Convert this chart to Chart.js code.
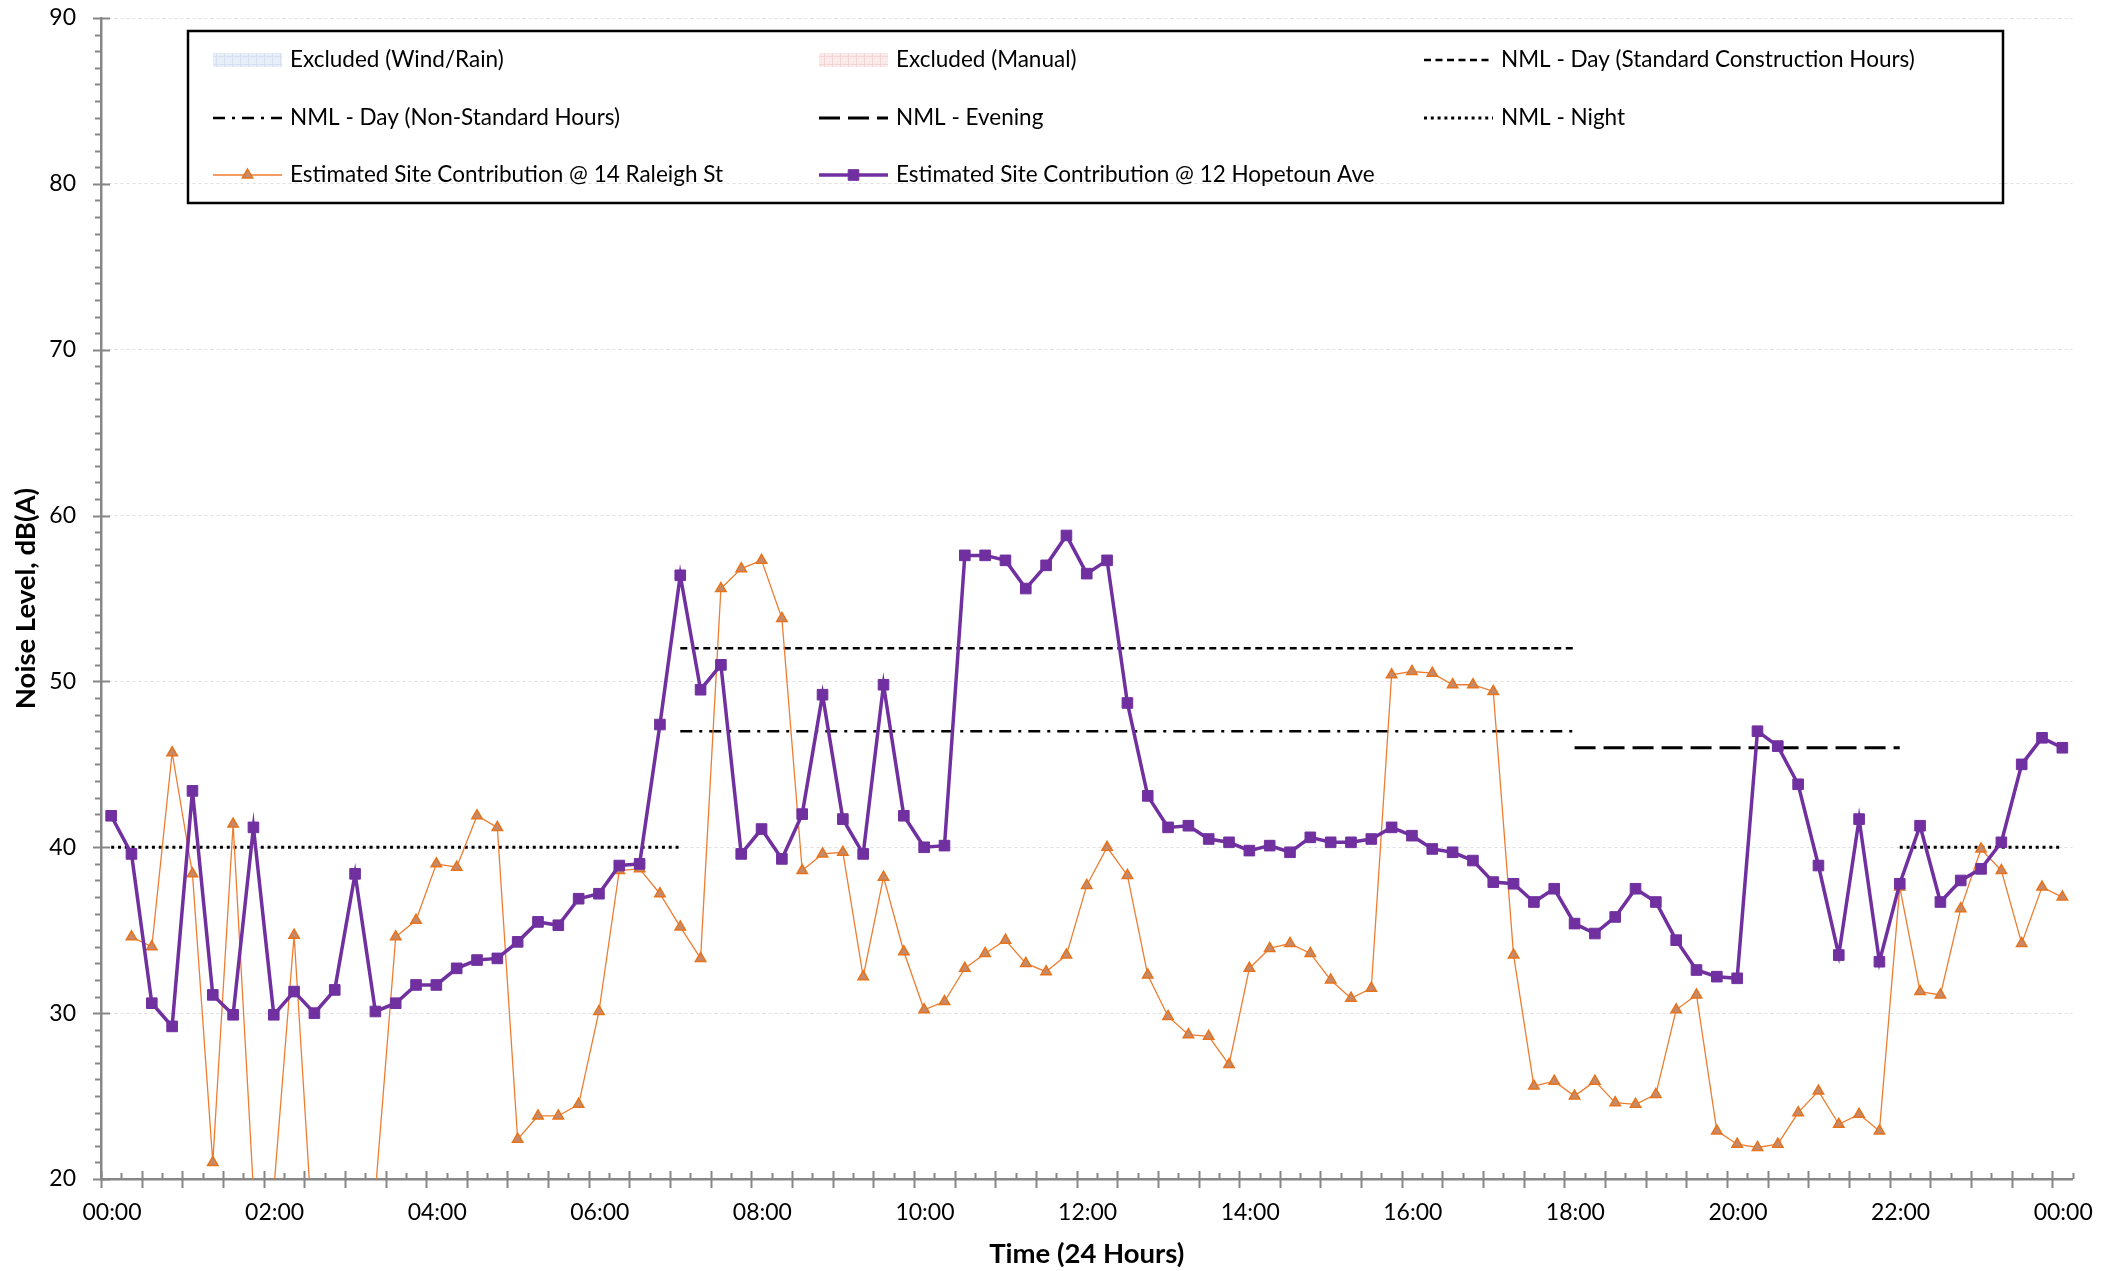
<!DOCTYPE html>
<html>
<head>
<meta charset="utf-8">
<style>
    html, body { margin: 0; padding: 0; background: #ffffff; }
    #wrap { width: 2102px; height: 1271px; }
</style>
<script src="https://cdn.jsdelivr.net/npm/chart.js@4/dist/chart.umd.min.js"></script>
</head>
<body>
<div id="wrap"><canvas id="noiseChart" width="2102" height="1271"></canvas></div>
<script>
    // 15 minute intervals, each plotted at the middle of its interval (hours)
    const slotTimes = [];
    for (let i = 0; i < 97; i++) slotTimes.push(0.125 + i * 0.25);

    // x axis labels every 2 hours
    const xTickHours  = [0, 2, 4, 6, 8, 10, 12, 14, 16, 18, 20, 22, 24];
    const xTickLabels = ['00:00', '02:00', '04:00', '06:00', '08:00', '10:00', '12:00',
                         '14:00', '16:00', '18:00', '20:00', '22:00', '00:00'];

    // Estimated site contribution, dB(A)
    const raleighSt = [
        null, 34.6, 34.0, 45.7, 38.4, 21.0, 41.4, 19.3, 19.3, 34.7, 15.0, 17.0, 18.0, 19.2, 34.6, 35.6,
        39.0, 38.8, 41.9, 41.2, 22.4, 23.8, 23.8, 24.5, 30.1, 38.6, 38.7, 37.2, 35.2, 33.3, 55.6, 56.8,
        57.3, 53.8, 38.6, 39.6, 39.7, 32.2, 38.2, 33.7, 30.2, 30.7, 32.7, 33.6, 34.4, 33.0, 32.5, 33.5,
        37.7, 40.0, 38.3, 32.3, 29.8, 28.7, 28.6, 26.9, 32.7, 33.9, 34.2, 33.6, 32.0, 30.9, 31.5, 50.4,
        50.6, 50.5, 49.8, 49.8, 49.4, 33.5, 25.6, 25.9, 25.0, 25.9, 24.6, 24.5, 25.1, 30.2, 31.1, 22.9,
        22.1, 21.9, 22.1, 24.0, 25.3, 23.3, 23.9, 22.9, 37.6, 31.3, 31.1, 36.3, 39.9, 38.6, 34.2, 37.6,
        37.0
    ];
    const hopetounAve = [
        41.9, 39.6, 30.6, 29.2, 43.4, 31.1, 29.9, 41.2, 29.9, 31.3, 30.0, 31.4, 38.4, 30.1, 30.6, 31.7,
        31.7, 32.7, 33.2, 33.3, 34.3, 35.5, 35.3, 36.9, 37.2, 38.9, 39.0, 47.4, 56.4, 49.5, 51.0, 39.6,
        41.1, 39.3, 42.0, 49.2, 41.7, 39.6, 49.8, 41.9, 40.0, 40.1, 57.6, 57.6, 57.3, 55.6, 57.0, 58.8,
        56.5, 57.3, 48.7, 43.1, 41.2, 41.3, 40.5, 40.3, 39.8, 40.1, 39.7, 40.6, 40.3, 40.3, 40.5, 41.2,
        40.7, 39.9, 39.7, 39.2, 37.9, 37.8, 36.7, 37.5, 35.4, 34.8, 35.8, 37.5, 36.7, 34.4, 32.6, 32.2,
        32.1, 47.0, 46.1, 43.8, 38.9, 33.5, 41.7, 33.1, 37.8, 41.3, 36.7, 38.0, 38.7, 40.3, 45.0, 46.6,
        46.0
    ];

    // Noise management levels
    const nmlDayTimes     = [7.125, 18.125];
    const nmlDayStd       = [52, 52];
    const nmlDayNonStd    = [47, 47];
    const nmlEveningTimes = [18.125, 22.125];
    const nmlEvening      = [46, 46];
    const nmlNightTimes   = [0.125, 7.125, 14, 22.125, 24.125];
    const nmlNight        = [40, 40, null, 40, 40];

    // excluded periods (none on this day)
    const excludedWindRain = [];
    const excludedManual   = [];

    const FONT = 'Lato, "Noto Sans", sans-serif';
    Chart.defaults.font.family = FONT;

    function toXY(times, values) {
        return values.map((v, i) => ({ x: times[i], y: v }));
    }

    function hatch(base, line) {
        const c = document.createElement('canvas');
        c.width = 8; c.height = 8;
        const g = c.getContext('2d');
        g.fillStyle = base;
        g.fillRect(0, 0, 8, 8);
        g.fillStyle = line;
        g.fillRect(0, 0, 8, 1);
        g.fillRect(0, 0, 1, 8);
        return g.createPattern(c, 'repeat');
    }

    const noClipBottom = { left: 8, top: 8, right: 8, bottom: 0 };

    const datasets = [
        { label: 'Excluded (Wind/Rain)', data: excludedWindRain, legendBox: true,
          backgroundColor: hatch('#e8eef8', '#d6e0f0'), borderWidth: 0, pointRadius: 0, order: 6 },
        { label: 'Excluded (Manual)', data: excludedManual, legendBox: true,
          backgroundColor: hatch('#fbeaea', '#f2d6d6'), borderWidth: 0, pointRadius: 0, order: 7 },
        { label: 'NML - Day (Standard Construction Hours)', data: toXY(nmlDayTimes, nmlDayStd),
          borderColor: '#000', borderWidth: 2.5, borderDash: [7, 4.5], pointRadius: 0, order: 2 },
        { label: 'NML - Day (Non-Standard Hours)', data: toXY(nmlDayTimes, nmlDayNonStd),
          borderColor: '#000', borderWidth: 2.5, borderDash: [12, 7, 3, 7], pointRadius: 0, order: 3 },
        { label: 'NML - Evening', data: toXY(nmlEveningTimes, nmlEvening),
          borderColor: '#000', borderWidth: 3, borderDash: [21, 8], pointRadius: 0, order: 4 },
        { label: 'NML - Night', data: toXY(nmlNightTimes, nmlNight),
          borderColor: '#000', borderWidth: 3, borderDash: [3, 3.8], pointRadius: 0, order: 5, spanGaps: false },
        { label: 'Estimated Site Contribution @ 14 Raleigh St', data: toXY(slotTimes, raleighSt),
          borderColor: '#ED7D31', borderWidth: 1.3, pointStyle: 'triangle', pointRadius: 6,
          pointBackgroundColor: '#C48A6B', pointBorderColor: '#E8731A', pointBorderWidth: 1.5,
          clip: noClipBottom, order: 1, spanGaps: false },
        { label: 'Estimated Site Contribution @ 12 Hopetoun Ave', data: toXY(slotTimes, hopetounAve),
          borderColor: '#7030A0', borderWidth: 3.5, pointStyle: 'rect', pointRadius: 7.5,
          pointBackgroundColor: '#7030A0', pointBorderColor: '#7030A0', pointBorderWidth: 1,
          clip: noClipBottom, order: 0 }
    ];

    // minor / major tick marks on both axes (Excel style)
    const axisTicks = {
        id: 'axisTicks',
        afterDraw(chart) {
            const { ctx, chartArea } = chart;
            const xs = chart.scales.x, ys = chart.scales.y;
            ctx.save();
            ctx.strokeStyle = '#878787';
            ctx.lineWidth = 2;
            ctx.setLineDash([]);
            ctx.beginPath();
            for (let v = ys.min; v <= ys.max; v++) {
                const py = Math.round(ys.getPixelForValue(v)) + 0.5;
                const major = v % 10 === 0;
                ctx.moveTo(chartArea.left - (major ? 8 : 6), py);
                ctx.lineTo(chartArea.left + (major ? 9 : 0), py);
            }
            for (let q = 0; q <= 97; q++) {
                const t = q * 0.25;
                const px = Math.round(xs.getPixelForValue(t)) + 0.5;
                const major = q % 2 === 0;
                ctx.moveTo(px, chartArea.bottom - (major ? 8 : 6));
                ctx.lineTo(px, chartArea.bottom + (major ? 9 : 0));
            }
            ctx.stroke();
            ctx.restore();
        }
    };

    // boxed legend inside the plot, three columns
    const legendBox = {
        id: 'legendBox',
        afterDraw(chart) {
            const ctx = chart.ctx;
            const colX = [213, 819, 1424];
            const rowY = [60, 118, 175];
            const symW = 69;
            ctx.save();
            ctx.setLineDash([]);
            ctx.lineWidth = 2.5;
            ctx.strokeStyle = '#000';
            ctx.strokeRect(188, 31, 1815, 172);
            ctx.font = '22.5px ' + FONT;
            ctx.textBaseline = 'middle';
            ctx.textAlign = 'left';
            chart.data.datasets.forEach((ds, i) => {
                const x = colX[i % 3], y = rowY[Math.floor(i / 3)];
                if (ds.legendBox) {
                    ctx.fillStyle = ds.backgroundColor;
                    ctx.fillRect(x, y - 7, symW, 14);
                } else {
                    ctx.save();
                    ctx.strokeStyle = ds.borderColor;
                    ctx.lineWidth = ds.borderWidth;
                    ctx.setLineDash(ds.borderDash || []);
                    ctx.beginPath();
                    ctx.moveTo(x, y);
                    ctx.lineTo(x + symW, y);
                    ctx.stroke();
                    ctx.restore();
                    if (ds.pointRadius > 0) {
                        const cx = x + symW / 2, r = ds.pointRadius;
                        ctx.save();
                        ctx.fillStyle = ds.pointBackgroundColor;
                        ctx.strokeStyle = ds.pointBorderColor;
                        ctx.lineWidth = ds.pointBorderWidth;
                        ctx.beginPath();
                        if (ds.pointStyle === 'triangle') {
                            ctx.moveTo(cx, y - r);
                            ctx.lineTo(cx + r * 0.866, y + r * 0.5);
                            ctx.lineTo(cx - r * 0.866, y + r * 0.5);
                            ctx.closePath();
                        } else {
                            const s = r * Math.SQRT1_2;
                            ctx.rect(cx - s, y - s, 2 * s, 2 * s);
                        }
                        ctx.fill();
                        ctx.stroke();
                        ctx.restore();
                    }
                }
                ctx.fillStyle = '#000';
                ctx.fillText(ds.label, x + 77, y);
            });
            ctx.restore();
        }
    };

    const ctx = document.getElementById('noiseChart').getContext('2d');

    const noiseChart = new Chart(ctx, {
        type: 'line',
        data: { datasets: datasets },
        plugins: [axisTicks, legendBox],
        options: {
            responsive: false,
            animation: false,
            layout: { padding: { top: 18, right: 25, bottom: 0, left: 0 } },
            elements: { line: { tension: 0, fill: false } },
            plugins: {
                legend: { display: false },
                tooltip: { enabled: false }
            },
            scales: {
                x: {
                    type: 'linear',
                    min: 0,
                    max: 24.25,
                    afterFit: (scale) => { scale.height = 92; },
                    grid: { drawOnChartArea: false, drawTicks: false },
                    border: { color: '#878787', width: 2.5 },
                    ticks: {
                        stepSize: 2,
                        includeBounds: false,
                        autoSkip: false,
                        maxRotation: 0,
                        padding: 20,
                        labelOffset: 11,
                        color: '#000',
                        font: { size: 23 },
                        callback: (v) => {
                            const k = xTickHours.indexOf(v);
                            return k >= 0 ? xTickLabels[k] : '';
                        }
                    },
                    title: {
                        display: true,
                        text: 'Time (24 Hours)',
                        color: '#000',
                        font: { size: 27.5, weight: 'bold' },
                        padding: { top: 0, bottom: 0 }
                    }
                },
                y: {
                    min: 20,
                    max: 90,
                    afterFit: (scale) => {
                        scale.width = 101;
                        scale.paddingTop = 0;
                        scale.paddingBottom = 0;
                    },
                    grid: { color: '#dedede', lineWidth: 1, drawTicks: false },
                    border: { color: '#878787', width: 2.5, dash: [3, 3] },
                    ticks: {
                        stepSize: 10,
                        padding: 25,
                        color: '#000',
                        font: { size: 23 }
                    },
                    title: {
                        display: true,
                        text: 'Noise Level, dB(A)',
                        color: '#000',
                        font: { size: 27.5, weight: 'bold' },
                        padding: { top: 10, bottom: 0 }
                    }
                }
            }
        }
    });
</script>
</body>
</html>
